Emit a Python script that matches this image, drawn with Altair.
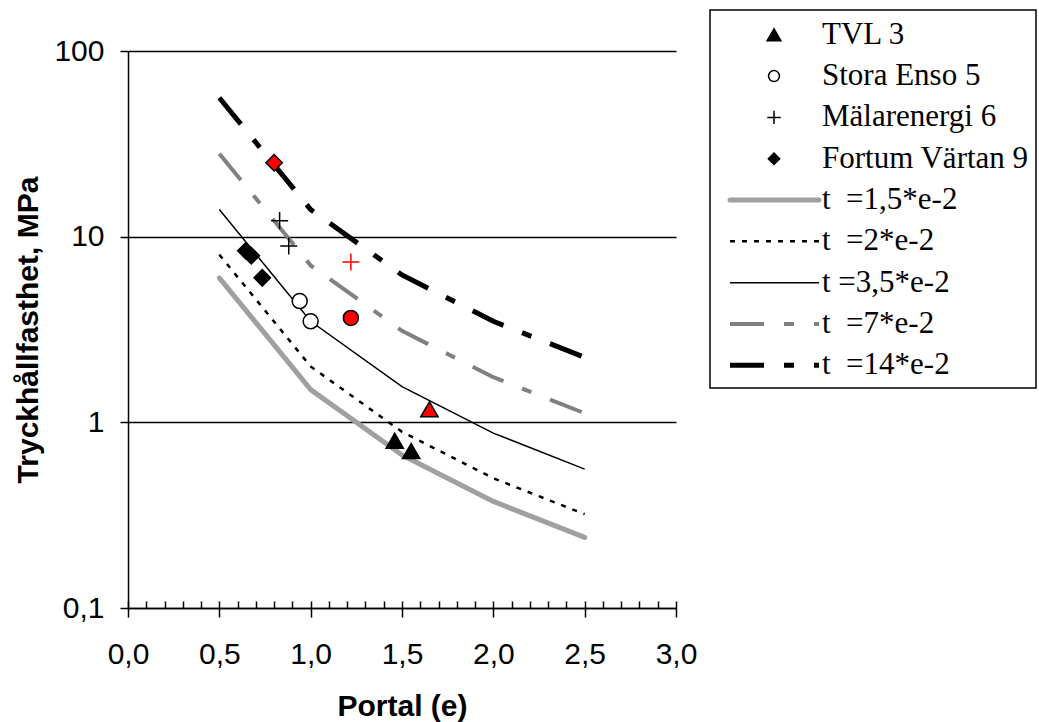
import altair as alt
import pandas as pd

# ---------------- data ----------------
CURVE_X = [0.5, 1.0, 1.5, 2.0, 2.5]
T_1_5 = [6.0, 1.5, 0.667, 0.375, 0.24]
T_2 = [8.0, 2.0, 0.889, 0.5, 0.32]
T_3_5 = [14.0, 3.5, 1.556, 0.875, 0.56]
T_7 = [28.0, 7.0, 3.111, 1.75, 1.12]
T_14 = [56.0, 14.0, 6.222, 3.5, 2.24]
CURVES = [T_1_5, T_2, T_3_5, T_7, T_14]
CURVE_NAMES = ["t\u00a0\u00a0=1,5*e-2", "t\u00a0\u00a0=2*e-2", "t\u00a0=3,5*e-2",
               "t\u00a0\u00a0=7*e-2", "t\u00a0\u00a0=14*e-2"]

SERIES_NAMES = ["TVL 3", "Stora Enso 5", "Mälarenergi 6", "Fortum Värtan 9"]
TVL_X = [1.46, 1.55, 1.65]
TVL_Y = [0.795, 0.70, 1.175]
TVL_HL = [0, 0, 1]
STORA_X = [0.94, 1.0, 1.22]
STORA_Y = [4.5, 3.5, 3.65]
STORA_HL = [0, 0, 1]
MALAR_X = [0.83, 0.88, 1.22]
MALAR_Y = [12.2, 8.9, 7.3]
MALAR_HL = [0, 0, 1]
FORTUM_X = [0.645, 0.675, 0.735, 0.80]
FORTUM_Y = [8.4, 7.9, 6.0, 25.0]
FORTUM_HL = [0, 0, 0, 1]
SERIES = [(TVL_X, TVL_Y, TVL_HL), (STORA_X, STORA_Y, STORA_HL),
          (MALAR_X, MALAR_Y, MALAR_HL), (FORTUM_X, FORTUM_Y, FORTUM_HL)]

X_MAJOR = [0.0, 0.5, 1.0, 1.5, 2.0, 2.5, 3.0]
X_MINOR = [round(i / 10, 1) for i in range(31)]
Y_TICKS = [0.1, 1, 10, 100]

# ---------------- styles ----------------
SANS = "Liberation Sans"
SERIF = "Liberation Serif"
AX_FS = 30
LEG_FS = 31
PLUS = "M-1,0H1M0,-1V1"

CURVE_STYLES = [
    dict(color="#a0a0a0", strokeWidth=5, strokeCap="round", strokeJoin="round"),
    dict(color="black", strokeWidth=2.5, strokeDash=[5, 7]),
    dict(color="black", strokeWidth=1.5),
    dict(color="#808080", strokeWidth=4, strokeDash=[34, 20, 10, 20]),
    dict(color="black", strokeWidth=5, strokeDash=[34, 20, 10, 20]),
]
POINT_STYLES = [
    dict(shape="triangle-up", size=300, fill="black", stroke="black", hl_stroke="black", filled=True),
    dict(shape="circle", size=225, fill="white", stroke="black", hl_stroke="black", filled=True),
    dict(shape=PLUS, size=290, fill=None, stroke="black", hl_stroke="red", filled=False),
    dict(shape="diamond", size=270, fill="black", stroke="black", hl_stroke="black", filled=True),
]
LEG_SIZES = [190, 120, 180, 130]

XS = alt.Scale(domain=[0, 3], nice=False, zero=False)
YS = alt.Scale(type="log", domain=[0.1, 100], nice=False)

Y_AXIS = alt.Axis(
    values=Y_TICKS, labelExpr="replace(format(datum.value, '~g'), '.', ',')",
    tickSize=8, tickWidth=1.5, tickColor="black",
    domainColor="black", domainWidth=1.5,
    grid=True, gridColor="black", gridWidth=1.5, gridOpacity=1,
    labelFont=SANS, labelFontSize=AX_FS, labelColor="black", labelPadding=16,
    labelOverlap=False,
    title="Tryckhållfasthet, MPa", titleFont=SANS, titleFontSize=AX_FS,
    titleFontWeight="bold", titleColor="black", titlePadding=10,
)
X_AXIS_MAIN = alt.Axis(
    orient="bottom", values=X_MAJOR,
    labelExpr="replace(format(datum.value, '.1f'), '.', ',')",
    tickSize=9, tickWidth=1.5, tickColor="black",
    domainColor="black", domainWidth=1.5, grid=False,
    labelFont=SANS, labelFontSize=AX_FS, labelColor="black", labelPadding=22,
    labelFlush=False, labelOverlap=False,
    title="Portal (e)", titleFont=SANS, titleFontSize=AX_FS,
    titleFontWeight="bold", titleColor="black", titlePadding=22,
)
X_AXIS_MINOR = alt.Axis(
    orient="bottom", values=X_MINOR, offset=-7, tickSize=7, tickWidth=1.5,
    tickColor="black", domain=False, labels=False, grid=False, title=None,
)

# ---------------- main plot ----------------
line_layers = []
for i, (vals, style) in enumerate(zip(CURVES, CURVE_STYLES)):
    df = pd.DataFrame({"x": CURVE_X, "y": vals})
    if i == 0:
        xax = X_AXIS_MAIN
    elif i == 1:
        xax = X_AXIS_MINOR
    else:
        xax = None
    line_layers.append(
        alt.Chart(df).mark_line(**style).encode(
            x=alt.X("x:Q", scale=XS, axis=xax),
            y=alt.Y("y:Q", scale=YS, axis=Y_AXIS),
        )
    )

point_layers = []
for (xs, ys, hl), st in zip(SERIES, POINT_STYLES):
    df = pd.DataFrame({"x": xs, "y": ys, "hl": hl})
    enc = dict(
        x=alt.X("x:Q", scale=XS, axis=None),
        y=alt.Y("y:Q", scale=YS, axis=Y_AXIS),
        stroke=alt.condition("datum.hl == 1", alt.value(st["hl_stroke"]), alt.value(st["stroke"])),
    )
    if st["filled"]:
        enc["fill"] = alt.condition("datum.hl == 1", alt.value("red"), alt.value(st["fill"]))
    point_layers.append(
        alt.Chart(df).mark_point(shape=st["shape"], size=st["size"], filled=st["filled"],
                                 strokeWidth=1.5, opacity=1).encode(**enc)
    )

main = alt.layer(*line_layers, *point_layers).resolve_axis(x="independent")

# ---------------- legend ----------------
PLOT_LEFT = 128
PLOT_TOP = 51
LEG_TOP = 10 - PLOT_TOP
LEG_BOTTOM = 388 - PLOT_TOP
LEG_LEFT = 710 - PLOT_LEFT
LEG_RIGHT = 1036 - PLOT_LEFT
LEG_SCALE = alt.Scale(domain=[-0.6, 8.55], range=[LEG_TOP, LEG_BOTTOM], nice=False, zero=False)

LEGEND_LABELS = SERIES_NAMES + CURVE_NAMES
leg_df = pd.DataFrame({"row": list(range(len(LEGEND_LABELS))), "label": LEGEND_LABELS})
leg_y = alt.Y("row:Q", scale=LEG_SCALE, axis=None)

box = alt.Chart(leg_df.head(1)).mark_rect(fill="white", stroke="black", strokeWidth=1.5).encode(
    x=alt.value(LEG_LEFT), x2=alt.value(LEG_RIGHT), y=alt.value(LEG_TOP), y2=alt.value(LEG_BOTTOM)
)

leg_layers = [box]
for i, st in enumerate(POINT_STYLES):
    enc = dict(x=alt.value(774 - PLOT_LEFT), y=leg_y, stroke=alt.value(st["stroke"]))
    if st["filled"]:
        enc["fill"] = alt.value(st["fill"])
    leg_layers.append(
        alt.Chart(leg_df[leg_df["row"] == i]).mark_point(
            shape=st["shape"], size=LEG_SIZES[i], filled=st["filled"], strokeWidth=1.5, opacity=1
        ).encode(**enc)
    )
for j, st in enumerate(CURVE_STYLES):
    row = len(SERIES_NAMES) + j
    leg_layers.append(
        alt.Chart(leg_df[leg_df["row"] == row]).mark_rule(**st).encode(
            x=alt.value(730 - PLOT_LEFT), x2=alt.value(819 - PLOT_LEFT), y=leg_y
        )
    )
leg_layers.append(
    alt.Chart(leg_df).mark_text(align="left", baseline="middle", font=SERIF,
                                fontSize=LEG_FS, color="black").encode(
        x=alt.value(822 - PLOT_LEFT), y=leg_y, text="label:N"
    )
)
legend = alt.layer(*leg_layers)

chart = (
    alt.layer(main, legend)
    .resolve_scale(y="independent")
    .properties(
        width=548, height=557,
        autosize=alt.AutoSizeParams(type="none"),
        padding={"left": PLOT_LEFT, "top": PLOT_TOP, "right": 1039 - PLOT_LEFT - 548,
                 "bottom": 722 - PLOT_TOP - 557},
    )
    .configure_view(stroke=None)
)

chart.save("out.html", embed_options={"renderer": "svg", "actions": False})
